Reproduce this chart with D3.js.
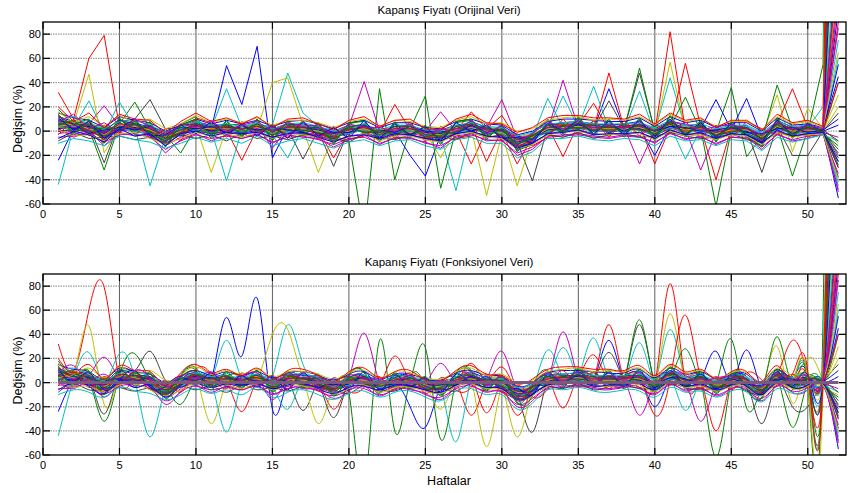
<!DOCTYPE html>
<html><head><meta charset="utf-8">
<script src="https://cdn.jsdelivr.net/npm/d3@7"></script>
<style>body{margin:0;background:#fff}svg{display:block}text{font-family:Arial,"Liberation Sans",sans-serif}</style>
</head><body><svg id="c" width="848" height="493"></svg>
<script>
const weeks=[1,2,3,4,5,6,7,8,9,10,11,12,13,14,15,16,17,18,19,20,21,22,23,24,25,26,27,28,29,30,31,32,33,34,35,36,37,38,39,40,41,42,43,44,45,46,47,48,49,50,51,52];
const xTicks=[0,5,10,15,20,25,30,35,40,45,50];
const yTicks=[-60,-40,-20,0,20,40,60,80];
const titleTop="Kapanış Fiyatı (Orijinal Veri)";
const titleBottom="Kapanış Fiyatı (Fonksiyonel Veri)";
const yLabel="Değişim (%)";
const xLabel="Haftalar";
const palette=["#0000ff","#008000","#ff0000","#00bfbf","#bf00bf","#bfbf00","#404040"];

const s00=[-24,2,4,-3,5,2,0,-6,1,3, 2,54,22,70,-22,3,1,-2,-4,1, 3,-1,2,0,-3,-2,2,4,1,-2, -9,-4,3,2,5,1,3,1,4,-2, 6,2,1,-3,2,0,-6,5,1,0, 1,-55];
const s01=[8,4,2,-32,6,24,2,-7,0,5, 0,3,2,4,-2,3,1,1,-4,-8, -85,35,-40,2,-1,-4,2,3,1,0, -7,-6,1,4,3,3,1,2,2,0, 4,2,3,-1,36,-21,-4,3,1,2, -1,40];
const s02=[32,10,60,79,3,4,2,-4,0,6, 2,1,-24,2,-1,4,3,0,-4,2, 3,-3,2,2,-1,-5,0,-27,1,2, -10,-3,2,3,5,3,2,3,2,0, 6,1,3,-40,2,1,-4,5,1,2, 2,150];
const s03=[-44,3,25,-1,5,2,1,-6,0,4, 2,35,3,4,5,48,15,4,-2,1, 2,-1,2,0,-3,-4,-49,3,1,-2, -9,-5,3,4,4,3,2,1,4,0, 44,3,2,-3,1,0,-6,4,1,1, 0,60];
const s04=[10,5,6,21,4,5,2,-4,1,3, 3,2,4,5,-14,3,3,2,-2,4, 41,0,3,2,0,-1,3,2,3,26, -6,-3,3,5,6,3,4,3,-27,1, 7,2,3,-1,2,3,-3,6,1,2, 1,110];
const s05=[8,6,47,-18,3,2,0,-6,0,5, -34,2,1,2,40,44,5,-1,-3,1, 2,-1,0,1,-2,-3,0,2,-53,-2, -8,-5,1,3,4,2,3,1,3,-2, 57,1,2,-2,1,1,-4,3,0,2, 0,30];
const s06=[6,4,5,-26,8,10,26,2,3,4, 1,3,2,4,0,2,-23,1,-2,1, 3,-1,2,1,-2,-2,1,4,1,-1, -9,-41,3,4,4,3,3,2,48,0, 5,2,2,-2,1,1,-34,4,0,1, 0,-38];
const s07=[2,5,1,-4,3,4,0,-4,-2,2, 1,3,1,2,-2,1,3,0,-3,-1, 1,-2,0,-20,-37,-3,1,3,0,-1, -7,-4,2,3,4,2,35,2,3,-20, 4,1,2,26,1,27,-5,4,0,1, 0,100];
const s08=[3,2,4,-4,5,2,1,-3,-18,3, 2,1,2,3,-1,2,2,0,-3,0, 2,-2,1,2,29,-47,1,3,0,-1, -8,-5,2,3,4,2,2,2,52,-1, 5,1,2,-62,1,1,-5,4,-37,1, 0,-25];
const s09=[7,3,5,-1,4,3,2,-5,0,4, 2,2,1,4,-1,3,2,1,-22,0, 2,-2,22,1,-2,-3,1,3,0,-1, -27,-5,2,3,4,2,48,2,3,-1, 82,1,2,-2,1,1,-5,4,0,1, 0,-30];
const s10=[4,2,3,-2,24,3,-45,-5,-1,4, 1,-41,1,3,-1,2,2,0,-3,0, 2,-2,1,1,-2,-3,1,3,0,-1, -8,-5,27,3,4,37,2,2,3,-1, 5,-23,2,-2,1,1,-5,4,0,1, 0,-45];
const s11=[1,0,2,-3,6,1,3,-7,2,5, 0,1,3,2,0,1,4,-1,-4,2, 1,-3,2,3,0,16,0,2,1,0, -10,-4,1,42,3,1,3,1,4,0, 3,2,-32,-1,2,0,-6,5,1,0, 1,-20];
const s12=[5,1,4,-3,2,4,0,-7,0,2, 1,3,2,2,1,3,2,-34,-3,2, 1,-1,0,3,-1,-22,2,2,1,-2, -45,-6,1,2,3,1,2,3,2,-2, 4,0,1,-3,0,2,-4,30,-17,19, 2,-10];
const s13=[5,4,2,-1,3,3,2,-4,-1,3, 1,2,2,3,-1,2,1,0,-29,1, 2,-2,1,1,-2,-3,1,3,0,-1, -8,-5,2,3,4,2,25,2,3,-1, 5,1,2,-2,1,1,-5,4,-20,-20, 0,15];
const s14=[12,8,6,-5,9,6,4,-9,2,8, 4,6,-2,7,-4,5,6,3,-7,3, 6,-5,4,5,-6,-7,3,8,3,-4, -14,-9,5,7,8,6,5,6,8,-5, 9,4,6,-6,3,5,-10,9,3,4, 2,45];
const s15=[2,6,0,-5,7,1,3,-8,1,6, -1,4,-1,5,1,0,4,-2,-5,2, 0,0,-1,3,0,-5,3,1,2,-3, -10,-3,0,5,2,4,0,4,1,1, 3,28,0,0,-1,3,-7,38,2,-1, 55,1500];
const s16=[9,5,0,-2,6,0,3,-3,2,6, 3,0,3,1,1,4,0,2,-1,2, 0,0,3,-1,0,-1,3,5,-25,1, -6,-3,4,-21,6,4,0,4,5,-27, 3,56,4,0,3,-1,-3,6,35,3, 2,300];
const s17=[6,4,1,-4,2,5,-1,-6,1,2, 3,0,-1,1,-3,-22,3,-2,-4,2, 3,-3,2,0,-3,-4,2,4,-1,0, -9,-6,1,29,3,1,3,1,33,-2, 4,0,1,-3,0,2,-6,3,-1,2, -1,250];
const s18=[0,-3,1,-6,1,0,-3,-12,-5,0, -2,-1,-3,0,-5,-1,-2,-4,-8,-4, -2,-7,-3,-3,-6,-9,-2,0,-4,-5, -15,-10,-2,0,1,-2,-3,-2,-1,-6, 1,-3,-2,-7,-2,-3,-10,0,-4,-2, -2,-48];
const s19=[8,5,7,2,2,5,-2,-3,3,2, 5,0,4,1,2,-1,5,2,-1,4, -1,1,-2,4,1,0,4,1,3,2, -5,-2,-1,6,2,5,-1,5,0,3, 2,4,-1,1,4,-2,-2,1,3,-1, 1,130];
const s20=[3,1,0,-1,7,1,5,-7,-3,6, -1,4,3,5,1,0,-1,-3,-1,-3, 4,0,-1,-2,0,-1,-1,5,-3,1, -10,-7,4,1,6,0,4,-1,5,0, 7,-1,4,0,-1,3,-7,6,-2,3, -1,-15];
const s21=[15,11,9,3,12,9,7,0,5,10, 6,9,6,9,4,8,9,6,2,7, 9,3,7,7,3,2,8,10,6,5, -3,0,8,10,10,9,8,8,11,4, 12,7,9,3,7,7,0,11,5,6, 3,400];
const s22=[4,7,3,0,1,5,-1,-2,1,2, 4,0,3,1,2,0,3,2,-1,3, 0,1,2,3,0,-1,2,1,2,1, -5,-4,3,2,3,3,0,3,2,1, 3,2,0,0,3,2,-3,2,1,3, 2,700];
const s23=[3,8,5,1,3,2,4,-6,3,2, 5,1,0,2,2,3,0,3,-2,1, 3,0,-1,3,-1,-2,0,16,2,13, -7,-4,4,2,5,23,1,3,2,0, 6,0,2,1,2,-1,-4,5,2,0, 1,90];
const s24=[3,1,2,-5,4,1,2,-4,0,3, 2,1,0,3,0,2,1,1,-4,1, 1,-3,2,0,-1,-2,1,2,1,-1, -9,-4,2,4,3,2,1,2,4,-1, 4,1,1,-2,2,0,-4,5,1,3, 20,900];
const s25=[-5,-4,-2,-9,-3,-2,-5,-15,-8,-3, -6,-4,-6,-3,-9,-5,-4,-7,-11,-6, -5,-10,-6,-5,-10,-12,-5,-3,-7,-8, -18,-13,-5,-4,-3,-5,-6,-4,-5,-9, -2,-6,-5,-10,-5,-6,-13,-3,-7,-4, -3,-35];
const s26=[6,0,5,1,3,-1,2,-4,2,1, 3,-1,2,0,1,4,0,2,-5,2, 0,-3,3,-1,-1,-5,2,1,2,-3, -6,-3,0,2,3,0,3,0,2,-3, 4,0,1,-3,0,2,-4,2,1,0, 0,20];
const s27=[10,2,-1,-4,8,7,-3,-8,4,9, -3,5,6,-1,2,6,-2,-4,0,5, -2,2,-4,6,-5,1,5,-1,4,-6, -12,-1,6,-2,7,5,-2,6,1,2, 8,-4,6,-5,4,-3,-8,7,-4,5, 2,160];
const s28=[2,5,4,-2,4,5,1,-2,-4,3, 2,2,0,4,0,1,3,1,-2,-1, 3,-1,0,2,-3,-2,0,4,-1,0, -7,-6,3,4,3,3,1,3,4,0, 6,2,1,-1,2,0,-5,3,0,2, 0,5];
const s29=[18,6,10,-8,10,0,8,-10,6,12, -4,8,-5,10,-8,9,-3,7,-10,6, 9,-8,8,-4,5,-10,7,9,-6,5, -16,-11,9,-2,11,-4,9,-3,10,-7, 12,-4,8,-8,7,-5,-12,10,-6,7, -2,600];
const s30=[4,3,2,-3,3,2,0,-6,-1,3, 1,1,1,2,-2,1,1,-1,-3,0, 1,-2,1,0,-2,-3,0,2,0,-1, -8,-5,1,2,3,1,1,1,2,-2, 4,0,1,-2,0,1,-5,3,-1,0, 0,120];
const s31=[7,9,1,4,0,5,3,-1,1,7, 4,-2,3,6,3,-1,5,3,1,2, 6,0,4,3,1,-2,3,6,2,3, -4,-8,0,6,2,4,5,0,7,2, 3,5,0,2,3,4,-2,6,2,1, 1,75];
const s32=[-2,0,6,-5,2,4,-4,-9,0,1, 0,3,-2,1,-6,3,-1,-3,-6,2, 0,-6,2,-2,-4,-6,-2,5,-2,0, -12,-8,3,1,5,0,0,3,1,-4, 3,-2,3,-5,2,-1,-9,5,-2,-1, -1,-5];
const s33=[11,4,8,0,6,2,5,-2,3,5, 3,0,3,5,1,0,4,2,-1,3, 2,1,3,3,0,-1,3,3,1,2, -5,-3,4,5,5,3,4,3,5,1, 6,3,3,0,3,3,-3,5,2,3, 2,220];
const s34=[1,7,0,-10,5,8,-1,-6,-2,2, 6,-3,0,2,-3,0,7,-2,-5,-2, 5,-4,-2,0,2,-5,-3,4,-2,4, -9,-4,-1,4,1,8,-1,1,2,-3, 2,3,-2,1,-3,2,-6,1,4,-2, 1,-28];
const s35=[6,2,4,0,1,3,2,-5,1,5, 0,3,2,3,0,3,1,1,-2,1, 3,-2,2,1,-1,-2,2,2,1,-2, -9,-6,1,3,5,2,3,2,2,-1, 4,1,3,-1,1,0,-6,4,1,1, 0,55];
const s36=[9,-1,3,2,4,6,0,-4,0,4, 2,3,-1,3,0,2,3,-1,-3,2, 3,-1,0,1,-2,-4,1,3,0,-1, -7,-4,2,4,3,2,2,3,3,-2, 5,2,2,-2,1,1,-4,4,0,1, 1,350];
const s37=[13,5,2,-7,6,4,2,-11,-2,6, 1,4,2,4,-3,4,3,-2,-6,1, 4,-4,2,2,-5,-5,2,6,1,-3, -13,-7,3,5,6,3,4,4,5,-3, 8,1,3,-4,2,2,-8,7,1,2, 1,500];
const s38=[3,4,6,1,2,0,-2,-7,-3,1, -1,0,0,1,-2,0,1,0,-4,-2, 1,-4,-1,0,-3,-4,-1,1,-1,-2, -10,-6,0,1,2,0,0,1,1,-3, 3,-1,0,-4,-1,-1,-7,2,-2,-1, -1,-42];
const s39=[7,3,1,-1,6,2,3,-3,1,4, 3,1,2,2,1,3,2,2,-1,1, 2,-1,2,2,0,-1,2,4,1,1, -6,-3,3,3,4,3,3,3,4,0, 5,2,3,-1,2,2,-3,5,1,2, 1,85];
const s40=[4,6,2,-3,5,4,1,-5,0,3, 2,2,1,3,-1,2,2,0,-3,0, 2,-2,1,1,-2,-3,1,3,0,-1, -8,-5,2,3,4,2,2,2,3,-1, 5,1,2,-2,1,1,-5,4,0,1, 0,1000];
const s41=[0,1,5,-4,0,6,-2,-8,-1,7, -2,0,5,0,2,-3,4,-2,-2,3, -1,-1,4,-3,1,-6,4,0,3,-4, -11,-3,-2,5,2,5,-1,4,1,1, 6,-2,4,-3,-1,3,-6,3,-2,3, -1,-22];
const s42=[9,6,-2,1,3,1,4,-1,3,2, 4,-1,4,1,3,1,0,4,-1,-1, 5,1,-1,4,0,0,-2,5,-1,2, -4,-7,5,0,6,0,5,0,6,0, 4,3,0,1,3,-1,-2,2,3,-1, 1,10];
const s43=[14,-2,9,-9,11,-3,7,-13,5,10, -6,9,-4,10,-7,8,-4,6,-11,7, 8,-9,7,-5,4,-11,8,10,-7,6, -17,-2,10,-4,12,-3,10,-5,11,-8, 13,-5,9,-9,8,-4,-13,11,-5,6, -2,-12];
const s44=[-3,10,-4,5,-2,9,-6,2,-8,11, 7,-5,8,-3,6,-5,9,-7,4,-7, -4,5,-6,8,-9,4,-6,-4,7,-8, -2,-12,-5,10,-3,9,-5,9,-4,6, -2,8,-5,5,-6,8,2,-3,7,-5, 1,40];
const s45=[9,12,6,2,8,9,5,-1,2,8, 5,6,4,7,2,6,7,4,0,4, 6,1,5,5,1,0,5,7,4,3, -4,-1,6,7,8,6,6,6,7,3, 9,5,6,2,5,5,-1,8,4,5, 2,180];
const s46=[2,-5,0,-12,-1,-4,-3,-18,-7,-2, -8,-3,-6,-2,-10,-3,-5,-6,-13,-7, -3,-11,-5,-6,-9,-14,-4,-2,-8,-7, -20,-15,-4,-3,-2,-4,-5,-3,-4,-10, -1,-7,-4,-11,-5,-5,-15,-2,-8,-6, -2,-50];
const s47=[16,7,12,4,13,7,10,2,6,13, 7,10,7,11,5,9,9,7,3,8, 10,4,9,8,4,3,9,12,6,7, 0,2,9,11,12,9,10,9,12,5, 14,8,10,4,8,8,1,12,6,8, 3,65];
const s48=[-8,-1,-6,-5,-4,-7,-5,-10,-3,-6, -3,-8,-2,-6,-4,-7,-3,-5,-6,-9, -2,-5,-7,-3,-6,-5,-7,-1,-5,-3, -13,-9,-3,-5,-1,-6,-3,-2,-5,-4, -1,-4,-6,-5,-2,-7,-9,-1,-4,-3, -1,-30];
const s49=[11,1,8,-6,2,10,-4,-3,5,-2, 8,-3,6,-4,5,-6,8,-4,3,-6, 9,-6,6,-3,4,-8,7,0,5,-6, -5,-10,7,0,9,-2,8,-3,9,-4, 10,-3,7,-5,6,-3,-9,9,-3,6, 0,260];
const s50=[5,9,-1,3,1,8,-2,-8,3,1, -2,6,-2,6,-4,5,0,3,-8,4, -1,1,-3,4,-5,-1,-1,7,-4,2, -11,-4,5,0,7,0,5,-1,6,-3, 7,-2,5,-4,4,-2,-7,6,-3,4, -1,-18];
const s51=[20,8,15,3,14,10,9,-2,8,15, 8,11,6,12,3,10,11,6,1,9, 12,4,9,10,2,1,10,14,7,6, -1,3,11,13,13,11,11,10,14,6, 15,9,11,3,9,9,1,14,7,9, 4,800];
const s52=[-10,-6,-8,-12,-4,-7,-9,-14,-10,-5, -9,-6,-10,-4,-12,-8,-6,-10,-14,-9, -7,-12,-8,-7,-12,-15,-7,-5,-10,-10, -22,-17,-6,-6,-4,-7,-8,-6,-7,-12, -4,-8,-7,-12,-7,-8,-16,-5,-9,-6, -3,-8];
const s53=[8,14,2,7,-1,10,4,-6,6,3, 9,-1,5,8,0,7,4,5,-4,6, 3,3,0,6,-3,2,0,9,-2,5, -9,-2,8,2,9,1,6,2,8,0, 8,6,1,4,5,3,-3,8,1,5, 2,140];
const s54=[1,-4,-3,-8,-2,-1,-6,-11,-6,-1, -4,-2,-5,-1,-6,-2,-3,-5,-9,-5, -2,-8,-4,-4,-7,-9,-3,-1,-5,-6, -14,-11,-3,-1,0,-3,-3,-2,-2,-7, 0,-4,-3,-7,-3,-4,-11,-1,-5,-3, -2,-40];
const s55=[12,5,6,0,10,2,5,-6,5,6, 3,5,1,6,-1,6,3,3,-5,4, 5,-3,4,4,-3,-4,4,6,2,1, -11,-6,5,6,6,5,3,5,5,0, 8,2,5,-4,3,3,-7,7,2,3, 1,-8];
const s56=[-6,0,-3,-9,2,-4,-2,-12,-2,0, -4,-1,-2,-1,-5,-2,-1,-5,-9,-4, -3,-6,-2,-3,-6,-8,-2,0,-4,-5, -14,-10,-2,-1,1,-3,-2,-2,-1,-6, 1,-3,-1,-6,-2,-3,-10,1,-4,-2, -1,-25];
const meanCurve=[0,0,0,0,0,0,0,0,0,0, 0,0,0,0,0,0,0,0,0,0, 0,0,0,0,0,0,0,0,0,0, 0,0,0,0,0,0,0,0,0,0, 0,0,0,0,0,0,0,0,0,0, 0,0];

const series=[s00,s01,s02,s03,s04,s05,s06,s07,s08,s09,s10,s11,s12,s13,s14,s15,s16,s17,s18,s19,s20,s21,s22,s23,s24,s25,s26,s27,s28,s29,s30,s31,s32,s33,s34,s35,s36,s37,s38,s39,s40,s41,s42,s43,s44,s45,s46,s47,s48,s49,s50,s51,s52,s53,s54,s55,s56];

const svg=d3.select("#c");
const L=43,R=846;
const x=d3.scaleLinear().domain([0,52.5]).range([L,R]);

function panel(top,bottom,title,curve,withMean,id){
  const y=d3.scaleLinear().domain([-60,90]).range([bottom,top]);
  const g=svg.append("g");
  svg.append("clipPath").attr("id",id).append("rect").attr("x",L).attr("y",top).attr("width",R-L).attr("height",bottom-top);
  g.selectAll(".vg").data(xTicks.filter(t=>t>0)).join("line")
    .attr("x1",d=>x(d)).attr("x2",d=>x(d)).attr("y1",top).attr("y2",bottom)
    .attr("stroke","#606060").attr("stroke-width",1);
  g.selectAll(".hg").data(yTicks.filter(t=>t>-60)).join("line")
    .attr("x1",L).attr("x2",R).attr("y1",d=>y(d)).attr("y2",d=>y(d))
    .attr("stroke","#9a9a9a").attr("stroke-width",1.3).attr("stroke-dasharray","1.5,1");
  const line=d3.line().x((d,i)=>x(weeks[i])).y(d=>y(d)).curve(curve);
  const lg=g.append("g").attr("clip-path",`url(#${id})`);
  lg.selectAll("path").data(series).join("path")
    .attr("d",d=>line(d)).attr("fill","none")
    .attr("stroke",(d,i)=>palette[i%palette.length]).attr("stroke-width",1);
  if(withMean){
    lg.append("path").attr("d",line(meanCurve)).attr("fill","none")
      .attr("stroke","#7d5a7d").attr("stroke-width",3);
  }
  g.append("rect").attr("x",L).attr("y",top).attr("width",R-L).attr("height",bottom-top)
    .attr("fill","none").attr("stroke","#000").attr("stroke-width",1.3);
  g.selectAll(".xt").data(xTicks).join("path")
    .attr("d",d=>`M${x(d)},${bottom}v-7M${x(d)},${top}v7`).attr("stroke","#000").attr("stroke-width",1.2);
  g.selectAll(".yt").data(yTicks).join("path")
    .attr("d",d=>`M${L},${y(d)}h7M${R},${y(d)}h-7`).attr("stroke","#000").attr("stroke-width",1.2);
  g.selectAll(".xl").data(xTicks).join("text")
    .attr("x",d=>x(d)).attr("y",bottom+14).attr("text-anchor","middle")
    .attr("font-size",11).attr("fill","#000").text(d=>d);
  g.selectAll(".yl").data(yTicks).join("text")
    .attr("x",L-2).attr("y",d=>y(d)+4).attr("text-anchor","end")
    .attr("font-size",11).attr("fill","#000").text(d=>d);
  g.append("text").attr("x",449).attr("y",top-8).attr("text-anchor","middle")
    .attr("font-size",11.5).attr("fill","#000").text(title);
  g.append("text").attr("transform",`translate(22,${(top+bottom)/2+6}) rotate(-90)`)
    .attr("text-anchor","middle").attr("font-size",12.5).attr("fill","#000").text(yLabel);
}
panel(22,204,titleTop,d3.curveLinear,false,"clipA");
panel(274,455,titleBottom,d3.curveNatural,true,"clipB");
svg.append("text").attr("x",449).attr("y",485).attr("text-anchor","middle")
  .attr("font-size",12.5).attr("fill","#000").text(xLabel);
</script></body></html>
